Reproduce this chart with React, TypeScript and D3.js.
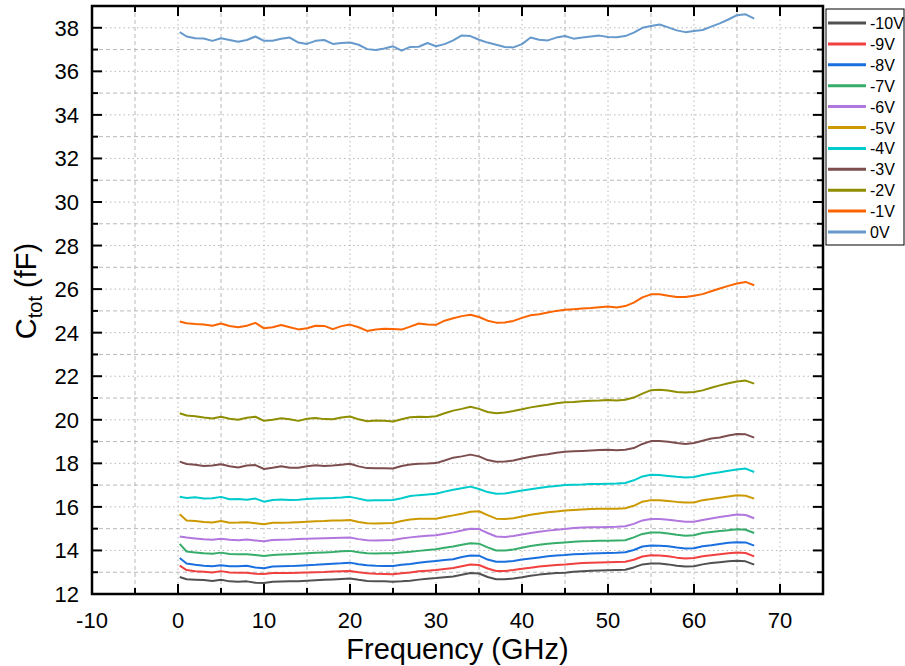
import React from 'react';
import * as d3 from 'd3';

const W = 905;
const H = 666;

const FREQ = [0.2, 1, 2, 3, 4, 5, 6, 7, 8, 9, 10, 11, 12, 13, 14, 15, 16, 17, 18, 19, 20, 21, 22, 23, 24, 25, 26, 27, 28, 29, 30, 31, 32, 33, 34, 35, 36, 37, 38, 39, 40, 41, 42, 43, 44, 45, 46, 47, 48, 49, 50, 51, 52, 53, 54, 55, 56, 57, 58, 59, 60, 61, 62, 63, 64, 65, 66, 67];

const V_M10 = [12.78, 12.68, 12.66, 12.64, 12.60, 12.65, 12.58, 12.56, 12.58, 12.52, 12.51, 12.56, 12.57, 12.58, 12.59, 12.61, 12.63, 12.65, 12.67, 12.69, 12.71, 12.65, 12.60, 12.59, 12.58, 12.56, 12.58, 12.61, 12.66, 12.70, 12.73, 12.77, 12.80, 12.88, 12.96, 12.94, 12.78, 12.68, 12.68, 12.71, 12.77, 12.84, 12.89, 12.93, 12.96, 12.98, 13.02, 13.05, 13.07, 13.08, 13.09, 13.10, 13.11, 13.22, 13.36, 13.40, 13.40, 13.36, 13.30, 13.26, 13.27, 13.36, 13.42, 13.46, 13.50, 13.53, 13.50, 13.35];
const V_M9 = [13.30, 13.10, 13.05, 13.02, 12.99, 13.05, 12.99, 12.98, 12.98, 12.93, 12.92, 12.96, 12.97, 12.97, 12.98, 12.99, 13.00, 13.01, 13.03, 13.05, 13.06, 13.00, 12.95, 12.93, 12.92, 12.91, 12.95, 12.99, 13.04, 13.07, 13.10, 13.15, 13.19, 13.27, 13.35, 13.33, 13.17, 13.06, 13.06, 13.10, 13.16, 13.21, 13.26, 13.30, 13.33, 13.35, 13.39, 13.42, 13.44, 13.45, 13.46, 13.47, 13.48, 13.57, 13.72, 13.78, 13.77, 13.73, 13.67, 13.63, 13.65, 13.73, 13.78, 13.83, 13.87, 13.91, 13.88, 13.73];
const V_M8 = [13.65, 13.40, 13.34, 13.30, 13.27, 13.32, 13.27, 13.27, 13.30, 13.22, 13.18, 13.26, 13.27, 13.28, 13.30, 13.32, 13.34, 13.37, 13.39, 13.41, 13.44, 13.37, 13.32, 13.30, 13.29, 13.29, 13.34, 13.38, 13.43, 13.48, 13.52, 13.56, 13.60, 13.70, 13.77, 13.76, 13.58, 13.48, 13.48, 13.52, 13.58, 13.63, 13.68, 13.73, 13.77, 13.79, 13.82, 13.84, 13.86, 13.87, 13.88, 13.89, 13.92, 14.02, 14.18, 14.23, 14.22, 14.19, 14.13, 14.09, 14.10, 14.19, 14.24, 14.30, 14.35, 14.38, 14.37, 14.22];
const V_M7 = [14.30, 13.95, 13.91, 13.87, 13.85, 13.90, 13.84, 13.82, 13.82, 13.79, 13.75, 13.79, 13.81, 13.83, 13.85, 13.87, 13.89, 13.91, 13.93, 13.96, 13.98, 13.92, 13.87, 13.86, 13.87, 13.87, 13.91, 13.94, 13.98, 14.02, 14.05, 14.12, 14.18, 14.26, 14.33, 14.31, 14.14, 14.00, 14.00, 14.04, 14.12, 14.20, 14.26, 14.31, 14.34, 14.37, 14.40, 14.42, 14.43, 14.45, 14.45, 14.46, 14.47, 14.60, 14.76, 14.82, 14.82, 14.78, 14.72, 14.68, 14.70, 14.80, 14.85, 14.89, 14.93, 14.97, 14.95, 14.80];
const V_M6 = [14.64, 14.59, 14.55, 14.51, 14.49, 14.54, 14.49, 14.47, 14.50, 14.46, 14.42, 14.48, 14.49, 14.50, 14.52, 14.54, 14.55, 14.56, 14.57, 14.58, 14.59, 14.52, 14.47, 14.46, 14.47, 14.48, 14.55, 14.60, 14.64, 14.67, 14.70, 14.77, 14.83, 14.92, 15.00, 14.98, 14.80, 14.64, 14.62, 14.66, 14.73, 14.80, 14.86, 14.91, 14.95, 14.98, 15.03, 15.05, 15.06, 15.07, 15.08, 15.09, 15.11, 15.22, 15.38, 15.44, 15.44, 15.41, 15.36, 15.32, 15.32, 15.40, 15.47, 15.54, 15.59, 15.65, 15.63, 15.48];
const V_M5 = [15.66, 15.38, 15.35, 15.31, 15.28, 15.35, 15.27, 15.28, 15.30, 15.25, 15.20, 15.27, 15.27, 15.28, 15.30, 15.32, 15.34, 15.35, 15.37, 15.38, 15.40, 15.31, 15.25, 15.24, 15.25, 15.26, 15.35, 15.42, 15.45, 15.46, 15.46, 15.54, 15.61, 15.68, 15.78, 15.80, 15.62, 15.46, 15.44, 15.48, 15.56, 15.64, 15.70, 15.75, 15.79, 15.83, 15.86, 15.88, 15.90, 15.91, 15.91, 15.92, 15.94, 16.05, 16.24, 16.31, 16.31, 16.27, 16.23, 16.20, 16.20, 16.31, 16.36, 16.42, 16.48, 16.53, 16.51, 16.38];
const V_M4 = [16.47, 16.41, 16.44, 16.39, 16.40, 16.46, 16.35, 16.36, 16.33, 16.38, 16.24, 16.32, 16.34, 16.32, 16.33, 16.36, 16.39, 16.40, 16.41, 16.43, 16.46, 16.38, 16.29, 16.30, 16.31, 16.32, 16.40, 16.50, 16.54, 16.57, 16.60, 16.70, 16.79, 16.86, 16.93, 16.82, 16.68, 16.60, 16.61, 16.68, 16.75, 16.81, 16.87, 16.92, 16.96, 17.00, 17.02, 17.03, 17.05, 17.05, 17.06, 17.07, 17.10, 17.22, 17.40, 17.48, 17.46, 17.42, 17.38, 17.35, 17.37, 17.46, 17.53, 17.59, 17.66, 17.72, 17.76, 17.60];
const V_M3 = [18.08, 17.97, 17.93, 17.88, 17.90, 17.96, 17.87, 17.81, 17.90, 17.92, 17.74, 17.80, 17.87, 17.80, 17.80, 17.87, 17.91, 17.88, 17.90, 17.94, 17.98, 17.86, 17.78, 17.77, 17.77, 17.76, 17.88, 17.95, 17.98, 17.99, 18.01, 18.13, 18.26, 18.32, 18.40, 18.32, 18.15, 18.07, 18.08, 18.13, 18.22, 18.30, 18.37, 18.42, 18.49, 18.53, 18.55, 18.57, 18.59, 18.61, 18.62, 18.60, 18.62, 18.70, 18.89, 19.02, 19.02, 18.99, 18.93, 18.89, 18.93, 19.04, 19.14, 19.19, 19.28, 19.35, 19.33, 19.18];
const V_M2 = [20.30, 20.20, 20.16, 20.10, 20.06, 20.14, 20.05, 20.00, 20.09, 20.14, 19.95, 20.00, 20.07, 20.02, 19.95, 20.05, 20.08, 20.03, 20.02, 20.10, 20.15, 20.02, 19.93, 19.97, 19.96, 19.92, 20.02, 20.12, 20.14, 20.13, 20.16, 20.30, 20.42, 20.50, 20.60, 20.50, 20.36, 20.30, 20.33, 20.40, 20.48, 20.57, 20.63, 20.69, 20.76, 20.80, 20.82, 20.85, 20.87, 20.88, 20.91, 20.89, 20.92, 21.02, 21.20, 21.36, 21.38, 21.34, 21.28, 21.25, 21.28, 21.35, 21.47, 21.58, 21.68, 21.76, 21.80, 21.66];
const V_M1 = [24.51, 24.43, 24.40, 24.38, 24.32, 24.42, 24.31, 24.25, 24.32, 24.45, 24.20, 24.25, 24.35, 24.25, 24.15, 24.20, 24.32, 24.31, 24.16, 24.30, 24.37, 24.25, 24.08, 24.15, 24.18, 24.17, 24.14, 24.28, 24.42, 24.37, 24.36, 24.55, 24.66, 24.76, 24.82, 24.72, 24.55, 24.46, 24.47, 24.54, 24.68, 24.80, 24.85, 24.93, 25.00, 25.05, 25.08, 25.11, 25.13, 25.17, 25.20, 25.16, 25.22, 25.38, 25.62, 25.76, 25.76, 25.70, 25.64, 25.64, 25.70, 25.77, 25.90, 26.03, 26.15, 26.26, 26.33, 26.18];
const V_0 = [37.80, 37.60, 37.52, 37.51, 37.40, 37.52, 37.44, 37.36, 37.44, 37.60, 37.40, 37.40, 37.50, 37.55, 37.32, 37.26, 37.40, 37.44, 37.26, 37.30, 37.32, 37.22, 37.02, 36.98, 37.05, 37.15, 36.95, 37.12, 37.13, 37.30, 37.15, 37.25, 37.42, 37.65, 37.62, 37.45, 37.32, 37.22, 37.12, 37.10, 37.25, 37.55, 37.45, 37.42, 37.55, 37.62, 37.50, 37.55, 37.60, 37.64, 37.58, 37.56, 37.62, 37.78, 38.00, 38.08, 38.15, 38.02, 37.88, 37.80, 37.85, 37.90, 38.05, 38.20, 38.38, 38.58, 38.62, 38.42];

const SERIES_NAMES = ['-10V', '-9V', '-8V', '-7V', '-6V', '-5V', '-4V', '-3V', '-2V', '-1V', '0V'];
const SERIES_COLORS = ['#515151', '#F14040', '#1A6FDF', '#37AD6B', '#B177DE', '#CC9900', '#00CBCC', '#7D4E4E', '#8E8E00', '#FB6501', '#6699CC'];
const SERIES_VALUES = [V_M10, V_M9, V_M8, V_M7, V_M6, V_M5, V_M4, V_M3, V_M2, V_M1, V_0];

const X_MAJOR = [-10, 0, 10, 20, 30, 40, 50, 60, 70];
const X_MINOR = [-5, 5, 15, 25, 35, 45, 55, 65];
const Y_MAJOR = [12, 14, 16, 18, 20, 22, 24, 26, 28, 30, 32, 34, 36, 38];
const Y_MINOR = [13, 15, 17, 19, 21, 23, 25, 27, 29, 31, 33, 35, 37];

const FONT = 'Liberation Sans, Arial, Helvetica, sans-serif';

export default function App() {
  const L = 92, R = 823, T = 6, B = 594;
  const x = d3.scaleLinear().domain([-10, 75]).range([L, R]);
  const y = d3.scaleLinear().domain([12, 39]).range([B, T]);
  const line = d3.line<number>().x((_, i) => x(FREQ[i])).y((d) => y(d));

  const gridColor = '#b8b8b8';
  const majLen = 10;
  const minLen = 6;

  return (
    <svg width={W} height={H} style={{ position: 'absolute', left: 0, top: 0, background: '#fff' }} fontFamily={FONT}>
      <rect x={0} y={0} width={W} height={H} fill="#fff" />
      <g stroke={gridColor} strokeWidth={1} fill="none">
        {X_MAJOR.filter((v) => v > -10).map((v) => (
          <line key={'xg' + v} x1={x(v)} x2={x(v)} y1={T} y2={B} strokeDasharray="1.5,3" />
        ))}
        {X_MINOR.map((v) => (
          <line key={'xm' + v} x1={x(v)} x2={x(v)} y1={T} y2={B} strokeDasharray="4,3" />
        ))}
        {Y_MAJOR.filter((v) => v > 12).map((v) => (
          <line key={'yg' + v} x1={L} x2={R} y1={y(v)} y2={y(v)} strokeDasharray="1.5,3" />
        ))}
        {Y_MINOR.map((v) => (
          <line key={'ym' + v} x1={L} x2={R} y1={y(v)} y2={y(v)} strokeDasharray="4,3" />
        ))}
      </g>
      <g fill="none" strokeWidth={2} strokeLinejoin="round">
        {SERIES_VALUES.map((vals, i) => (
          <path key={SERIES_NAMES[i]} d={line(vals) || ''} stroke={SERIES_COLORS[i]} />
        ))}
      </g>
      <g stroke="#000" strokeWidth={2}>
        {X_MAJOR.map((v) => (
          <g key={'xt' + v}>
            <line x1={x(v)} x2={x(v)} y1={B} y2={B - majLen} />
            <line x1={x(v)} x2={x(v)} y1={T} y2={T + majLen} />
          </g>
        ))}
        {X_MINOR.map((v) => (
          <g key={'xtm' + v}>
            <line x1={x(v)} x2={x(v)} y1={B} y2={B - minLen} />
            <line x1={x(v)} x2={x(v)} y1={T} y2={T + minLen} />
          </g>
        ))}
        {Y_MAJOR.map((v) => (
          <g key={'yt' + v}>
            <line x1={L} x2={L + majLen} y1={y(v)} y2={y(v)} />
            <line x1={R} x2={R - majLen} y1={y(v)} y2={y(v)} />
          </g>
        ))}
        {Y_MINOR.map((v) => (
          <g key={'ytm' + v}>
            <line x1={L} x2={L + minLen} y1={y(v)} y2={y(v)} />
            <line x1={R} x2={R - minLen} y1={y(v)} y2={y(v)} />
          </g>
        ))}
      </g>
      <rect x={L} y={T} width={R - L} height={B - T} fill="none" stroke="#000" strokeWidth={2.5} />
      <g fontSize={22} fill="#000">
        {X_MAJOR.map((v) => (
          <text key={'xl' + v} x={x(v)} y={628} textAnchor="middle">{v}</text>
        ))}
        {Y_MAJOR.map((v) => (
          <text key={'yl' + v} x={79} y={y(v) + 8} textAnchor="end">{v}</text>
        ))}
      </g>
      <text x={(L + R) / 2} y={659} textAnchor="middle" fontSize={29} fill="#000">Frequency (GHz)</text>
      <text transform={`translate(36, 291) rotate(-90)`} textAnchor="middle" fontSize={29} fill="#000">
        C<tspan fontSize={20} dy={6}>tot</tspan><tspan dy={-6}> (fF)</tspan>
      </text>
      <g>
        <rect x={826} y={9} width={78} height={236} fill="#fff" stroke="#000" strokeWidth={1} />
        {SERIES_NAMES.map((name, i) => {
          const ly = 23 + i * 20.9;
          return (
            <g key={'lg' + name}>
              <line x1={828} x2={866} y1={ly} y2={ly} stroke={SERIES_COLORS[i]} strokeWidth={3} />
              <text x={870} y={ly + 6} fontSize={16} fill="#000">{name}</text>
            </g>
          );
        })}
      </g>
    </svg>
  );
}
